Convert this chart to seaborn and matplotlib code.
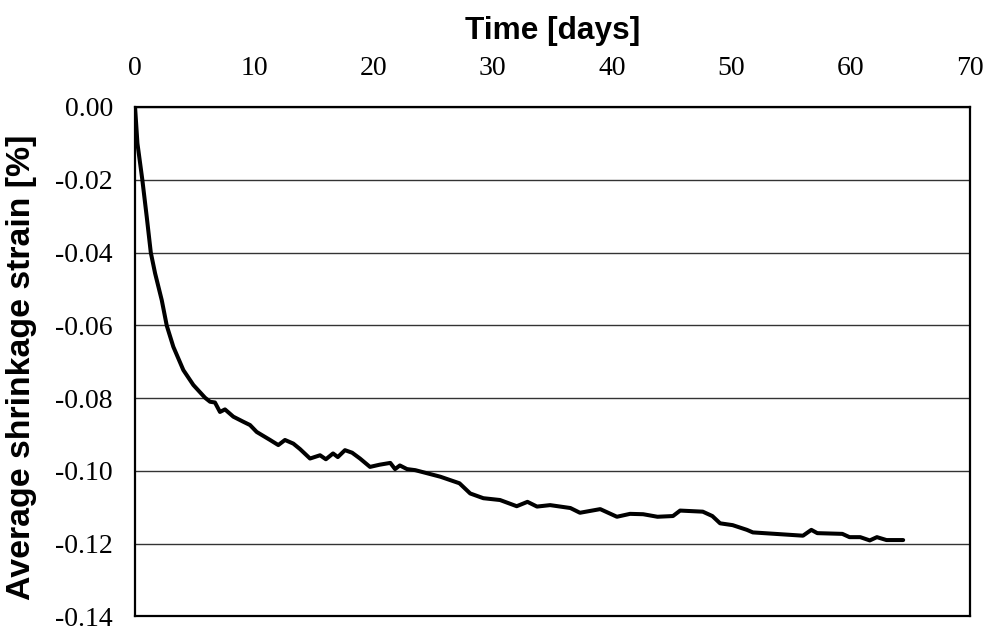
import matplotlib
matplotlib.use("Agg")
import matplotlib.pyplot as plt
import seaborn as sns
import pandas as pd

# Measured shrinkage history (time in days, strain in %)
time_days = [0.0, 0.2, 0.61, 0.98, 1.32, 1.68, 2.24, 2.66, 3.21, 4.05, 4.89, 5.87,
             6.29, 6.7, 7.12, 7.54, 8.24, 9.08, 9.64, 10.2, 11.32, 12.01, 12.57,
             13.27, 13.83, 14.67, 15.51, 16.0, 16.6, 17.0, 17.6, 18.2, 18.86, 19.7,
             20.5, 21.4, 21.8, 22.2, 22.8, 23.5, 25.6, 27.2, 28.1, 29.2, 30.6, 32.0,
             32.9, 33.7, 34.8, 36.5, 37.3, 39.0, 40.4, 41.5, 42.6, 43.8, 45.1, 45.7,
             47.6, 48.4, 49.05, 50.1, 51.3, 51.8, 56.0, 56.7, 57.2, 59.3, 59.9, 60.8,
             61.6, 62.2, 63.0, 64.4]
strain_pct = [0.0, -0.010, -0.020, -0.0302, -0.040, -0.0457, -0.0531, -0.0601, -0.0659,
              -0.0723, -0.0764, -0.0799, -0.0810, -0.0812, -0.0838, -0.0831, -0.0851,
              -0.0865, -0.0874, -0.0893, -0.0915, -0.0929, -0.0915, -0.0925, -0.0940,
              -0.0966, -0.0957, -0.0968, -0.0952, -0.0962, -0.0943, -0.0950, -0.0966,
              -0.0989, -0.0983, -0.0978, -0.0995, -0.0985, -0.0995, -0.0998, -0.1016,
              -0.1034, -0.1062, -0.1075, -0.1080, -0.1097, -0.1085, -0.1098, -0.1094,
              -0.1102, -0.1115, -0.1105, -0.1126, -0.1118, -0.1119, -0.1126, -0.1124,
              -0.1109, -0.1112, -0.1124, -0.1144, -0.1149, -0.1162, -0.1169, -0.1178,
              -0.1162, -0.1171, -0.1173, -0.1182, -0.1182, -0.1191, -0.1182, -0.1190,
              -0.1190]

x_ticks = [0, 10, 20, 30, 40, 50, 60, 70]
y_ticks = [0.00, -0.02, -0.04, -0.06, -0.08, -0.10, -0.12, -0.14]

df = pd.DataFrame({"time": time_days, "strain": strain_pct})

sns.set_theme(style="white")
plt.rcParams["font.family"] = ["Liberation Serif", "DejaVu Serif"]
plt.rcParams["text.color"] = "black"
plt.rcParams["axes.labelcolor"] = "black"

fig = plt.figure(figsize=(9.93, 6.31), dpi=100)
ax = fig.add_axes([0.136, 0.023, 0.8408, 0.8075])

sns.lineplot(data=df, x="time", y="strain", ax=ax, color="black",
             linewidth=2.9, estimator=None, sort=False)

ax.set_xlim(0, 70)
ax.set_ylim(-0.14, 0.0)
ax.set_xticks(x_ticks)
ax.set_yticks(y_ticks)
ax.set_yticklabels([f"{v:.2f}" for v in y_ticks])
ax.xaxis.tick_top()
ax.xaxis.set_label_position("top")
ax.tick_params(axis="both", length=0, labelsize=20, colors="black")
ax.tick_params(axis="x", pad=19)
ax.tick_params(axis="y", pad=16)

ax.yaxis.grid(True, color="#333333", linewidth=1.0)
ax.xaxis.grid(False)
for s in ax.spines.values():
    s.set_color("black")
    s.set_linewidth(1.6)

sans = ["Liberation Sans", "DejaVu Sans"]
ax.set_xlabel("Time [days]", family=sans, weight="bold", size=22.8,
              color="black", labelpad=12)
ax.set_ylabel("Average shrinkage strain [%]", family=sans, weight="bold",
              size=24.4, color="black")
ax.yaxis.set_label_coords(-0.117, 0.49)

fig.savefig("out.png", dpi=100)
